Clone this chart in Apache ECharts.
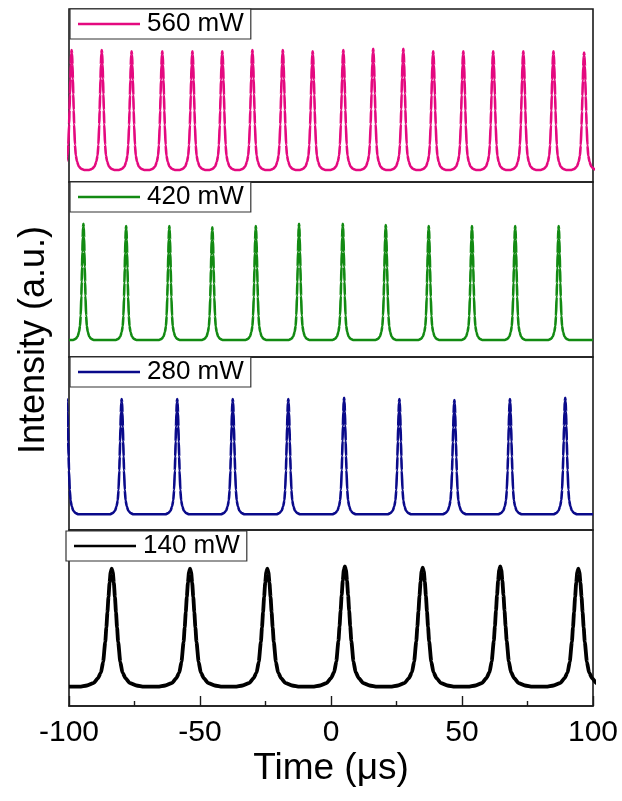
<!DOCTYPE html>
<html>
<head>
    <meta charset="utf-8">
    <title>Pulse trains</title>
    <script src="https://cdn.jsdelivr.net/npm/echarts@6.0.0/dist/echarts.min.js"></script>
    <style>
        html, body { margin: 0; padding: 0; width: 100%; height: 100%; background: #fff; overflow: hidden; }
        #chart { width: 622px; height: 801px; }
    </style>
</head>
<body>
    <div id="chart"></div>
    <script>
        // pump powers, top panel first
        const powers = ['560 mW', '420 mW', '280 mW', '140 mW'];
        const colors = ['#e4097f', '#128a12', '#0a0a8a', '#000000'];

        // peak times (µs)
        const peaks560 = [-99.0, -87.5, -76.1, -64.4, -52.9, -41.5, -30.0, -18.4, -7.0, 4.7, 16.1, 27.6, 39.0, 50.5, 61.9, 73.4, 84.9, 96.6];
        const peaks420 = [-94.5, -78.2, -61.7, -45.3, -28.7, -12.2, 4.5, 20.9, 37.3, 53.8, 70.3, 86.9];
        const peaks280 = [-100.9, -79.9, -58.7, -37.5, -16.3, 5.0, 26.1, 47.1, 68.3, 89.4];
        const peaks140 = [-83.7, -53.8, -24.3, 5.3, 35.0, 64.6, 94.4];

        // peak heights (a.u., baseline = 0)
        const heights560 = [1.0, 1.0, 0.99, 0.99, 0.99, 0.99, 1.0, 1.0, 0.99, 1.0, 1.01, 1.01, 0.99, 0.99, 0.99, 0.99, 0.99, 0.98];
        const heights420 = [1.01, 0.99, 0.99, 0.98, 0.99, 1.01, 1.01, 1.0, 0.99, 0.99, 0.99, 0.99];
        const heights280 = [1.0, 1.0, 1.0, 1.0, 1.0, 1.01, 1.0, 0.99, 1.0, 1.01];
        const heights140 = [0.99, 0.99, 0.99, 1.01, 1.0, 1.01, 0.99];

        // pulse width (FWHM, µs) per panel
        const widths = [1.6, 1.3, 1.5, 4.1];

        // pulse profile: offset in FWHM units -> relative level
        const profileOffsets = [-3.0, -2.3, -1.7, -1.3, -1.0, -0.8, -0.6, -0.5, -0.4, -0.3, -0.2, -0.1, 0, 0.1, 0.2, 0.3, 0.4, 0.5, 0.6, 0.8, 1.0, 1.3, 1.7, 2.3, 3.0];
        const profileLevels  = [0, 0.01, 0.03, 0.07, 0.12, 0.21, 0.38, 0.5, 0.63, 0.76, 0.88, 0.97, 1, 0.97, 0.88, 0.76, 0.63, 0.5, 0.38, 0.21, 0.12, 0.07, 0.03, 0.01, 0];

        // y ranges so the baseline and peaks sit where they do in each panel
        const yMin = [-0.10, -0.148, -0.136, -0.162];
        const yMax = [1.342, 1.374, 1.364, 1.315];

        const xTicks = [-100, -50, 0, 50, 100];

        const panelTops = [9, 182, 357, 530];
        const panelBottoms = [182, 357, 530, 706];
        const fontFamily = '"Liberation Sans", Arial, sans-serif';

        function buildTrace(peaks, heights, fwhm) {
            const pts = [];
            peaks.forEach((t, i) => {
                profileOffsets.forEach((o, k) => {
                    pts.push([t + o * fwhm, heights[i] * profileLevels[k]]);
                });
            });
            pts.sort((a, b) => a[0] - b[0]);
            if (pts[0][0] > -100) pts.unshift([-100, 0]);
            if (pts[pts.length - 1][0] < 100) pts.push([100, 0]);
            return pts;
        }

        const traces = [
            buildTrace(peaks560, heights560, widths[0]),
            buildTrace(peaks420, heights420, widths[1]),
            buildTrace(peaks280, heights280, widths[2]),
            buildTrace(peaks140, heights140, widths[3])
        ];

        const chart = echarts.init(document.getElementById('chart'), null, { renderer: 'canvas' });

        const grids = panelTops.map((top, i) => ({
            left: 69,
            right: 29,
            top: top,
            height: panelBottoms[i] - top,
            show: true,
            borderColor: '#1a1a1a',
            borderWidth: 1.6,
            backgroundColor: 'transparent'
        }));

        const xAxes = powers.map((p, i) => {
            const bottom = i === powers.length - 1;
            return {
                type: 'value',
                gridIndex: i,
                min: -100,
                max: 100,
                interval: 50,
                show: bottom,
                axisLine: { show: true, onZero: false, lineStyle: { color: '#1a1a1a', width: 1.6 } },
                axisTick: { show: bottom, inside: true, length: 10, lineStyle: { color: '#1a1a1a', width: 1.4 } },
                minorTick: { show: bottom, splitNumber: 2, length: 5, lineStyle: { color: '#1a1a1a', width: 1.4 } },
                splitLine: { show: false },
                axisLabel: {
                    show: bottom,
                    margin: 12,
                    fontSize: 30,
                    color: '#000',
                    fontFamily: fontFamily,
                    customValues: xTicks
                },
                name: bottom ? 'Time (μs)' : '',
                nameLocation: 'middle',
                nameGap: 44,
                nameTextStyle: { fontSize: 37, color: '#000', fontFamily: fontFamily }
            };
        });

        const yAxes = powers.map((p, i) => ({
            type: 'value',
            gridIndex: i,
            min: yMin[i],
            max: yMax[i],
            show: false,
            splitLine: { show: false }
        }));

        const series = powers.map((p, i) => ({
            name: p,
            type: 'line',
            xAxisIndex: i,
            yAxisIndex: i,
            data: traces[i],
            symbol: 'none',
            smooth: 0.2,
            smoothMonotone: 'x',
            clip: true,
            lineStyle: { color: colors[i], width: i === 3 ? 3.8 : 2.6 },
            itemStyle: { color: colors[i] },
            animation: false
        }));

        const legends = powers.map((p, i) => ({
            data: [p],
            left: i === 3 ? 66 : 70,
            top: i === 3 ? panelTops[i] + 1 : panelTops[i],
            orient: 'horizontal',
            padding: [2, 7, 2, 8],
            icon: 'rect',
            itemWidth: 62,
            itemHeight: 2.5,
            backgroundColor: '#fff',
            borderColor: '#333',
            borderWidth: 1.2,
            selectedMode: false,
            textStyle: { fontSize: 26, color: '#000', fontFamily: fontFamily, padding: [0, 0, 0, 2] }
        }));

        chart.setOption({
            backgroundColor: '#fff',
            animation: false,
            grid: grids,
            xAxis: xAxes,
            yAxis: yAxes,
            legend: legends,
            series: series,
            graphic: [{
                type: 'text',
                left: 16,
                top: 226,
                rotation: Math.PI / 2,
                style: {
                    text: 'Intensity (a.u.)',
                    fontSize: 36,
                    fontFamily: fontFamily,
                    fill: '#000'
                }
            }]
        });
    </script>
</body>
</html>
